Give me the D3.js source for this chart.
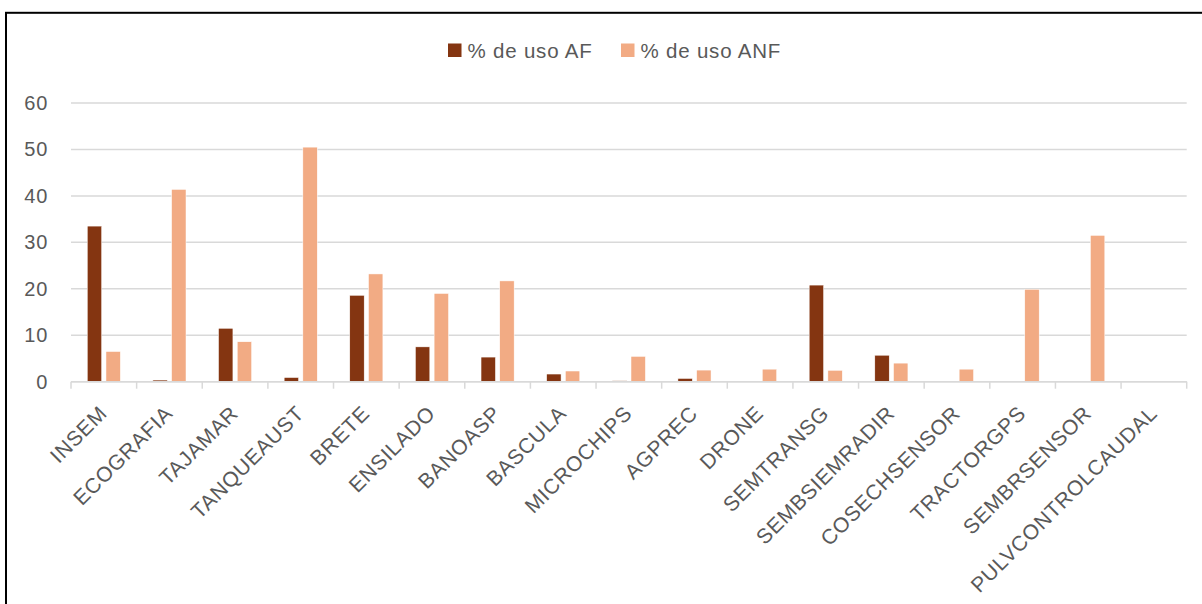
<!DOCTYPE html>
<html>
<head>
<meta charset="utf-8">
<script src="https://cdn.jsdelivr.net/npm/d3@7"></script>
<style>
  html, body { margin: 0; padding: 0; background: #fff; overflow: hidden; }
  svg { display: block; font-family: "Liberation Sans", Arial, sans-serif; }
</style>
</head>
<body>
<svg id="chart" width="1202" height="604"></svg>
<script>
const categories = ["INSEM", "ECOGRAFIA", "TAJAMAR", "TANQUEAUST", "BRETE", "ENSILADO", "BANOASP",
  "BASCULA", "MICROCHIPS", "AGPREC", "DRONE", "SEMTRANSG", "SEMBSIEMRADIR", "COSECHSENSOR",
  "TRACTORGPS", "SEMBRSENSOR", "PULVCONTROLCAUDAL"];
const seriesNames = ["% de uso AF", "% de uso ANF"];
const usoAF  = [33.5, 0.35, 11.5, 0.9, 18.6, 7.5, 5.3, 1.65, 0.2, 0.7, 0.15, 20.8, 5.7, 0.1, 0.1, 0.1, 0];
const usoANF = [6.5, 41.4, 8.6, 50.5, 23.2, 19.0, 21.7, 2.3, 5.45, 2.5, 2.7, 2.45, 4.0, 2.7, 19.9, 31.5, 0];
const yTicks = [0, 10, 20, 30, 40, 50, 60];
const colors = ["#843511", "#F2AB84"];

const svg = d3.select("#chart");
const plotLeft = 71, plotRight = 1186.7, plotTop = 103, plotBottom = 381.7;
const textColor = "#595959";

// frame
svg.append("rect").attr("x", 6).attr("y", 12.8).attr("width", 1400).attr("height", 800)
  .attr("fill", "none").attr("stroke", "#000").attr("stroke-width", 2);

const x0 = d3.scaleBand().domain(categories).range([plotLeft, plotRight]).paddingInner(0).paddingOuter(0);
const x1 = d3.scaleBand().domain(seriesNames).range([0, x0.bandwidth()])
  .paddingInner(0.23).paddingOuter(0.869);
const y = d3.scaleLinear().domain([0, 60]).range([plotBottom, plotTop]);

// gridlines
svg.append("g").selectAll("line").data(yTicks).join("line")
  .attr("x1", plotLeft).attr("x2", plotRight)
  .attr("y1", d => y(d)).attr("y2", d => y(d))
  .attr("stroke", "#d9d9d9").attr("stroke-width", 1.5);

// y axis labels
const yAxis = d3.axisLeft(y).tickValues(yTicks).tickSize(0).tickPadding(0);
const gy = svg.append("g").attr("transform", `translate(${48},0)`).call(yAxis);
gy.select(".domain").remove();
gy.selectAll("text").attr("fill", textColor).attr("font-size", 20)
  .attr("font-family", "Liberation Sans, Arial, sans-serif").attr("letter-spacing", 0.7);

// bars
const data = categories.map((c, i) => ({ cat: c, vals: [usoAF[i], usoANF[i]] }));
const groups = svg.append("g").selectAll("g").data(data).join("g")
  .attr("transform", d => `translate(${x0(d.cat)},0)`);
groups.selectAll("rect").data(d => d.vals.map((v, j) => ({ s: seriesNames[j], v, j })))
  .join("rect")
  .attr("x", d => x1(d.s))
  .attr("width", x1.bandwidth())
  .attr("y", d => y(d.v))
  .attr("height", d => Math.max(0, y(0) - y(d.v)))
  .attr("fill", d => colors[d.j])
  .attr("stroke", "#fff").attr("stroke-width", 0.5);

// x axis ticks (category boundaries)
const bounds = categories.map(c => x0(c)).concat([plotRight]);
svg.append("g").selectAll("line").data(bounds).join("line")
  .attr("x1", d => d).attr("x2", d => d)
  .attr("y1", plotBottom).attr("y2", plotBottom + 7)
  .attr("stroke", "#d9d9d9").attr("stroke-width", 1.5);
svg.append("line").attr("x1", plotLeft).attr("x2", plotRight).attr("y1", plotBottom).attr("y2", plotBottom)
  .attr("stroke", "#d9d9d9").attr("stroke-width", 1.5);

// x labels
svg.append("g").selectAll("text").data(categories).join("text")
  .attr("transform", d => `translate(${x0(d) + x0.bandwidth() / 2 + 4.5},${plotBottom + 33}) rotate(-45)`)
  .attr("text-anchor", "end")
  .attr("font-size", 21).attr("letter-spacing", 0.7)
  .attr("fill", textColor)
  .text(d => d);

// legend
const legendX = [448, 621];
const lg = svg.append("g").selectAll("g").data(seriesNames).join("g")
  .attr("transform", (d, i) => `translate(${legendX[i]},43.5)`);
lg.append("rect").attr("width", 13.5).attr("height", 13.5).attr("fill", (d, i) => colors[i]);
lg.append("text").attr("x", 19.5).attr("y", 14).attr("font-size", 20.5).attr("letter-spacing", 0.8)
  .attr("fill", textColor).text(d => d);
</script>
</body>
</html>
